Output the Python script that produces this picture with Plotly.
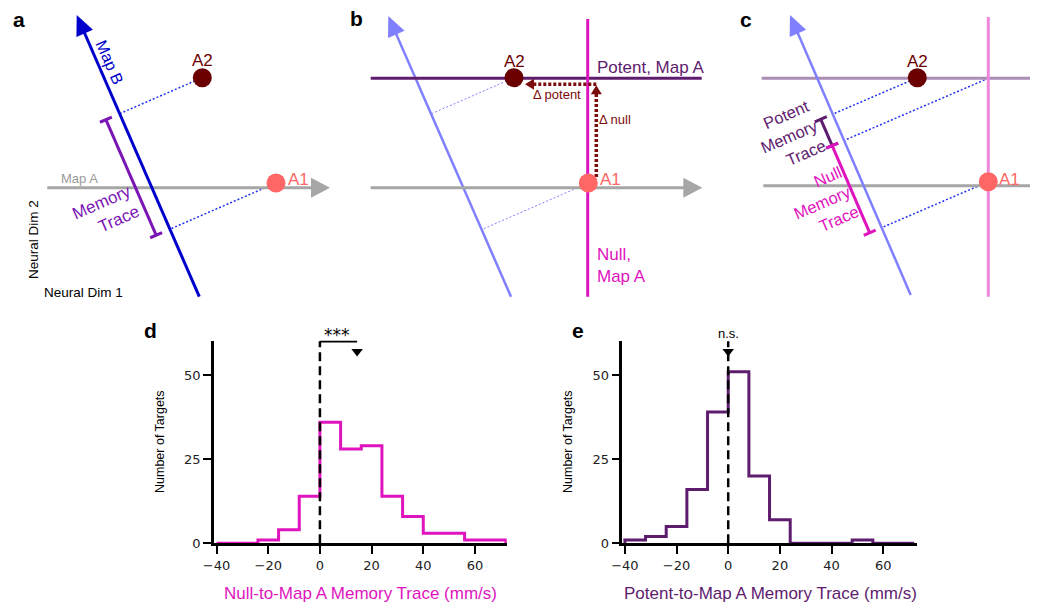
import numpy as np
import plotly.graph_objects as go

W, H = 1038, 603          # browser window
OFF = 8                   # page body margin: figure starts at (8, 8)
FW, FH = W - OFF, H - OFF  # figure size that fills the visible window

# ---------------- histogram data ----------------
bin_edges = [-40, -32, -24, -16, -8, 0, 8, 16, 24, 32, 40, 48, 56, 64, 72]
null_counts = [0, 0, 1, 4, 14, 36, 28, 29, 14, 8, 3, 3, 1, 1]
potent_counts = [1, 2, 5, 16, 39, 51, 20, 7, 0, 0, 0, 1, 0, 0]
null_mean = 14.4
potent_mean = 0.0
x_ticks = [-40, -20, 0, 20, 40, 60]
y_ticks = [0, 25, 50]

# ---------------- schematic data (window pixel space) ----------------
a_mapB = [[199.3, 296.7], [76.7, 15.0]]      # tail, tip
a_mapA = [[47.3, 187.7], [330.0, 187.7]]
a_A1 = [276.0, 183.0]
a_A2 = [202.3, 77.7]

b_mapB = [[511.0, 296.7], [388.3, 16.0]]
b_mapA = [[370.7, 187.7], [702.3, 187.7]]
b_potent = [[370.7, 78.3], [701.7, 78.3]]
b_null = [[587.7, 19.0], [587.7, 296.7]]
b_A1 = [588.3, 183.0]
b_A2 = [514.0, 77.7]

c_mapB = [[910.7, 295.0], [790.0, 15.0]]
c_mapA = [[763.3, 185.7], [1049.0, 185.7]]
c_potent = [[761.7, 78.3], [1040.0, 78.3]]
c_null = [[988.3, 17.0], [988.3, 296.7]]
c_A1 = [988.3, 181.7]
c_A2 = [917.3, 77.7]

# colours
BLUE = "#0000CC"
LBLUE = "#8080FF"
GRAY = "#A6A6A6"
SALMON = "#FF6666"
MAROON = "#6B0000"
PURPLE = "#7A16B4"
MAGENTA = "#E014BE"
DPURPLE = "#5E1C6E"
DOTBLUE = "#2233EE"
DRED = "#7B0C0C"

ARIAL = "Liberation Sans, Arial, sans-serif"
DEJAVU = "DejaVu Sans, sans-serif"

# histogram axes placement (window pixels)
D_X = [214.0, 506.7]
E_X = [622.3, 917.3]
Y_PX = [543.3, 340.7]
D_RANGE = [-41, 72.3]
E_RANGE = [-41, 73.2]
Y_RANGE = [0, 60.2]


def xdom(px):
    return [(px[0] - OFF) / FW, (px[1] - OFF) / FW]


def ydom(py):
    return [1 - (py[0] - OFF) / FH, 1 - (py[1] - OFF) / FH]


def to_px(xv, yv, xpx, xr):
    px = xpx[0] + (xv - xr[0]) / (xr[1] - xr[0]) * (xpx[1] - xpx[0])
    py = Y_PX[0] + (yv - Y_RANGE[0]) / (Y_RANGE[1] - Y_RANGE[0]) * (Y_PX[1] - Y_PX[0])
    return px, py


shapes = []
annotations = []


def add_line(p, q, color, width, dash=None):
    d = dict(type="line", xref="x3", yref="y3", x0=p[0], y0=p[1], x1=q[0], y1=q[1],
             line=dict(color=color, width=width), layer="below")
    if dash:
        d["line"]["dash"] = dash
    shapes.append(d)


def add_arrow(tail, tip, color, width, hl, hw, dash=None):
    tail = np.array(tail, float)
    tip = np.array(tip, float)
    d = (tip - tail) / np.linalg.norm(tip - tail)
    n = np.array([-d[1], d[0]])
    base = tip - d * hl
    add_line(tail, tip - d * (hl * 0.6), color, width, dash)
    p1 = base + n * hw
    p2 = base - n * hw
    path = f"M {tip[0]},{tip[1]} L {p1[0]},{p1[1]} L {p2[0]},{p2[1]} Z"
    shapes.append(dict(type="path", xref="x3", yref="y3", path=path,
                       fillcolor=color, line=dict(width=0), layer="below"))


def foot(P, ln):
    P0 = np.array(ln[0], float)
    P1 = np.array(ln[1], float)
    u = (P1 - P0) / np.linalg.norm(P1 - P0)
    t = np.dot(np.array(P, float) - P0, u)
    return P0 + t * u


def normal(ln):
    P0 = np.array(ln[0], float)
    P1 = np.array(ln[1], float)
    u = (P1 - P0) / np.linalg.norm(P1 - P0)
    return np.array([u[1], -u[0]]), u


def add_bracket(p, q, ln, offset, color, width, cap):
    nrm, u = normal(ln)
    p2 = np.array(p) + nrm * offset
    q2 = np.array(q) + nrm * offset
    add_line(p2, q2, color, width)
    for e in (p2, q2):
        add_line(e - nrm * cap, e + nrm * cap, color, width)


def text(x, y, s, size, color, angle=0, family=ARIAL, align="center", xanchor="center", bold=False):
    if bold:
        s = f"<b>{s}</b>"
    annotations.append(dict(x=x, y=y, xref="x3", yref="y3", text=s, showarrow=False,
                            font=dict(family=family, size=size, color=color),
                            textangle=angle, align=align, xanchor=xanchor, yanchor="middle"))


ANG = -23.5
MAPB_ANG = 66.5

# ---------------- panel a ----------------
add_line(a_A2, foot(a_A2, a_mapB), DOTBLUE, 1.5, "2px,2px")
add_line(a_A1, foot(a_A1, a_mapB), DOTBLUE, 1.5, "2px,2px")
add_arrow(a_mapA[0], a_mapA[1], GRAY, 3, 19, 10)
add_arrow(a_mapB[0], a_mapB[1], BLUE, 3, 20, 9)
add_bracket(foot(a_A2, a_mapB), foot(a_A1, a_mapB), a_mapB, 15, PURPLE, 3, 6.5)
text(110, 62, "Map B", 16, BLUE, angle=MAPB_ANG)
text(202, 60, "A2", 17, MAROON)
text(298, 179, "A1", 17, SALMON)
text(79, 178, "Map A", 13, "#999999")
text(106, 212, "Memory<br>Trace", 17, PURPLE, angle=ANG, align="right")
text(33, 240, "Neural Dim 2", 13.5, "#000000", angle=-90)
text(83, 292, "Neural Dim 1", 13.5, "#000000")

# ---------------- panel b ----------------
add_line(b_A2, foot(b_A2, b_mapB), LBLUE, 1, "2px,2px")
add_line(b_A1, foot(b_A1, b_mapB), LBLUE, 1, "2px,2px")
add_arrow(b_mapB[0], b_mapB[1], LBLUE, 2.5, 20, 9)
add_arrow(b_mapA[0], b_mapA[1], GRAY, 3, 19, 10)
add_line(b_potent[0], b_potent[1], DPURPLE, 3)
add_line(b_null[0], b_null[1], MAGENTA, 3)
dx = b_A1[0] + 8
dy = b_A2[1] + 6.5
add_arrow([dx, b_A1[1] - 6], [dx, dy + 1], DRED, 3.5, 9, 5.5, "3px,2px")
add_arrow([dx, dy], [b_A2[0] + 11, dy], DRED, 3.5, 9, 5.5, "3px,2px")
text(650, 67, "Potent, Map A", 17, DPURPLE)
text(595, 265, "Null,<br>Map A", 17, MAGENTA, align="left", xanchor="left")
text(514, 61, "A2", 17, MAROON)
text(610, 179, "A1", 17, SALMON)
text(557, 94, "Δ potent", 13, DRED)
text(615, 119, "Δ null", 13, DRED)

# ---------------- panel c ----------------
c_cross = [c_null[0][0], c_potent[0][1]]
add_line(c_A2, foot(c_A2, c_mapB), DOTBLUE, 1.5, "2px,2px")
add_line(c_cross, foot(c_cross, c_mapB), DOTBLUE, 1.5, "2px,2px")
add_line(c_A1, foot(c_A1, c_mapB), DOTBLUE, 1.5, "2px,2px")
add_line(c_potent[0], c_potent[1], "#AA8CB4", 3)
add_arrow(c_mapA[0], c_mapA[1], GRAY, 3, 19, 10)
add_arrow(c_mapB[0], c_mapB[1], LBLUE, 2.5, 20, 9)
add_line(c_null[0], c_null[1], "#EE88DD", 3)
add_bracket(foot(c_A2, c_mapB), foot(c_cross, c_mapB), c_mapB, 13, DPURPLE, 3, 6.5)
add_bracket(foot(c_cross, c_mapB), foot(c_A1, c_mapB), c_mapB, 13, MAGENTA, 3, 6.5)
text(917, 61, "A2", 17, MAROON)
text(1009, 179, "A1", 17, SALMON)
text(789, 136, "Potent<br>Memory<br>Trace", 16.5, DPURPLE, angle=ANG, align="right")
text(822, 202, "Null<br>Memory<br>Trace", 16.5, MAGENTA, angle=ANG, align="right")

# panel letters
for lx, ly, lt in [(19, 19, "a"), (356, 18, "b"), (746, 19, "c"), (150, 330, "d"), (578, 330, "e")]:
    text(lx, ly, lt, 21, "#000000", bold=True)

# histogram titles
text(360.5, 593, "Null-to-Map A Memory Trace (mm/s)", 17, MAGENTA)
text(770, 593, "Potent-to-Map A Memory Trace (mm/s)", 17, DPURPLE)
text(160, 442, "Number of Targets", 12.5, "#000000", angle=-90)
text(568, 442, "Number of Targets", 12.5, "#000000", angle=-90)

# significance labels
sx, sy = to_px(6.8, 61.8, D_X, D_RANGE)
text(sx, sy, "***", 17, "#000000", family=DEJAVU)
sx, sy = to_px(potent_mean, 62.2, E_X, E_RANGE)
text(sx, sy, "n.s.", 13, "#000000")

fig = go.Figure()

# dots
fig.add_trace(go.Scatter(x=[a_A1[0], b_A1[0], c_A1[0]], y=[a_A1[1], b_A1[1], c_A1[1]],
                         mode="markers", marker=dict(size=19, color=SALMON, line=dict(width=0)),
                         xaxis="x3", yaxis="y3", hoverinfo="skip", showlegend=False))
fig.add_trace(go.Scatter(x=[a_A2[0], b_A2[0], c_A2[0]], y=[a_A2[1], b_A2[1], c_A2[1]],
                         mode="markers", marker=dict(size=19, color=MAROON, line=dict(width=0)),
                         xaxis="x3", yaxis="y3", hoverinfo="skip", showlegend=False))


def step_xy(edges, counts):
    xs = [edges[0]] + list(edges)
    ys = [0] + list(counts) + [0]
    return xs, ys


# histogram d
xs, ys = step_xy(bin_edges, null_counts)
fig.add_trace(go.Scatter(x=xs, y=ys, mode="lines", line=dict(shape="hv", color=MAGENTA, width=3),
                         xaxis="x", yaxis="y", showlegend=False, cliponaxis=False))
fig.add_trace(go.Scatter(x=[0, 0], y=[0, 60], mode="lines",
                         line=dict(color="black", width=2.5, dash="9px,5px"),
                         xaxis="x", yaxis="y", showlegend=False, cliponaxis=False))
fig.add_trace(go.Scatter(x=[0, null_mean], y=[60, 60], mode="lines",
                         line=dict(color="black", width=2.5),
                         xaxis="x", yaxis="y", showlegend=False, cliponaxis=False))
fig.add_trace(go.Scatter(x=[null_mean], y=[57], mode="markers",
                         marker=dict(symbol="triangle-down", size=10, color="black"),
                         xaxis="x", yaxis="y", showlegend=False, cliponaxis=False))

# histogram e
xs, ys = step_xy(bin_edges, potent_counts)
fig.add_trace(go.Scatter(x=xs, y=ys, mode="lines", line=dict(shape="hv", color=DPURPLE, width=3),
                         xaxis="x2", yaxis="y2", showlegend=False, cliponaxis=False))
fig.add_trace(go.Scatter(x=[potent_mean, potent_mean], y=[0, 60], mode="lines",
                         line=dict(color="black", width=2.5, dash="9px,5px"),
                         xaxis="x2", yaxis="y2", showlegend=False, cliponaxis=False))
fig.add_trace(go.Scatter(x=[potent_mean], y=[57], mode="markers",
                         marker=dict(symbol="triangle-down", size=10, color="black"),
                         xaxis="x2", yaxis="y2", showlegend=False, cliponaxis=False))

axis_common = dict(showline=True, linecolor="black", linewidth=2.5, ticks="outside",
                   ticklen=8, tickwidth=2, tickcolor="black", showgrid=False, zeroline=False,
                   tickfont=dict(family=DEJAVU, size=13, color="#222222"), fixedrange=True,
                   automargin=False)

YD = ydom(Y_PX)
fig.update_layout(
    width=FW, height=FH, autosize=False,
    margin=dict(l=0, r=0, t=0, b=0, pad=0, autoexpand=False),
    paper_bgcolor="white", plot_bgcolor="rgba(0,0,0,0)",
    showlegend=False,
    xaxis=dict(domain=xdom(D_X), range=D_RANGE, anchor="y", tickvals=x_ticks, **axis_common),
    yaxis=dict(domain=YD, range=Y_RANGE, anchor="x", tickvals=y_ticks, **axis_common),
    xaxis2=dict(domain=xdom(E_X), range=E_RANGE, anchor="y2", tickvals=x_ticks, **axis_common),
    yaxis2=dict(domain=YD, range=Y_RANGE, anchor="x2", tickvals=y_ticks, **axis_common),
    xaxis3=dict(domain=[0, 1], range=[OFF, W], anchor="y3", visible=False, fixedrange=True,
                automargin=False),
    yaxis3=dict(domain=[0, 1], range=[H, OFF], anchor="x3", visible=False, fixedrange=True,
                automargin=False),
    shapes=shapes,
    annotations=annotations,
)

fig.write_html("out.html")
